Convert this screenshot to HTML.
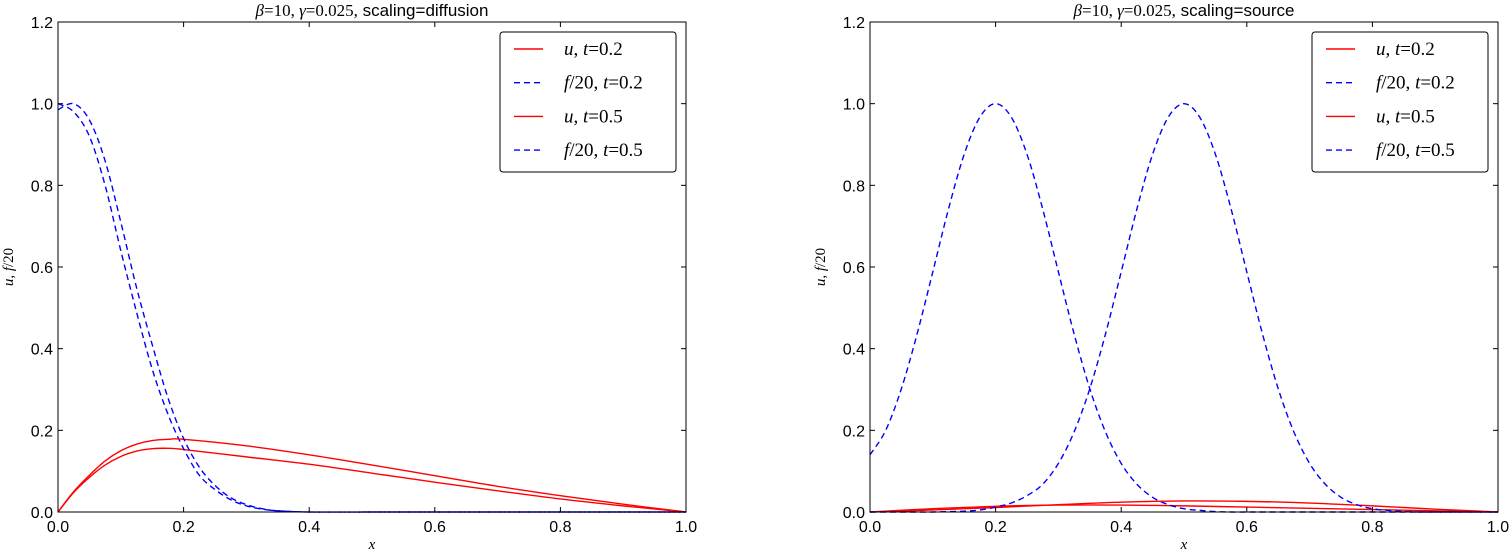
<!DOCTYPE html>
<html><head><meta charset="utf-8"><style>
body{margin:0;background:#fff;}
svg text{font-family:"Liberation Sans",sans-serif;}
svg text.serif{font-family:"Liberation Serif",serif;}
.m{font-family:"Liberation Serif",serif;font-style:italic;}
</style></head><body>
<svg id="fig" width="1512" height="552" xmlns="http://www.w3.org/2000/svg"></svg>
<script>
const xTicks=[0,0.2,0.4,0.6,0.8,1.0];
const yTicks=[0,0.2,0.4,0.6,0.8,1.0,1.2];
const xTickLabels=["0.0","0.2","0.4","0.6","0.8","1.0"];
const yTickLabels=["0.0","0.2","0.4","0.6","0.8","1.0","1.2"];
const xsL1=[0,0.025,0.05,0.075,0.1,0.125,0.15,0.175,0.2,0.225,0.25,0.275,0.3,0.325,0.35,0.4,0.5,0.6,0.7,0.8,0.9,1.0];
const fL_t02=[1.0,0.98,0.92,0.8,0.64,0.49,0.35,0.24,0.155,0.09,0.055,0.03,0.015,0.007,0.003,0,0,0,0,0,0,0];
const fL_t05=[0.985,1.0,0.96,0.86,0.71,0.55,0.41,0.28,0.18,0.11,0.065,0.035,0.018,0.008,0.003,0,0,0,0,0,0,0];
const xsU=[0,0.025,0.05,0.075,0.1,0.125,0.15,0.175,0.2,0.3,0.4,0.5,0.6,0.7,0.8,0.9,1.0];
const uL_t05=[0,0.05,0.09,0.125,0.15,0.166,0.175,0.178,0.178,0.162,0.14,0.115,0.089,0.063,0.04,0.019,0];
const uL_t02=[0,0.048,0.085,0.115,0.136,0.149,0.155,0.156,0.153,0.135,0.117,0.095,0.073,0.052,0.032,0.015,0];
const xsR=[0,0.025,0.05,0.075,0.1,0.125,0.15,0.175,0.2,0.225,0.25,0.275,0.3,0.325,0.35,0.375,0.4,0.425,0.45,0.475,0.5,0.525,0.55,0.575,0.6,0.625,0.65,0.675,0.7,0.725,0.75,0.775,0.8,0.825,0.85,0.875,0.9,0.925,0.95,0.975,1.0];
const fR_t02=[0.14,0.2,0.302,0.436,0.588,0.742,0.876,0.967,1,0.967,0.876,0.742,0.588,0.436,0.302,0.196,0.119,0.068,0.036,0.018,0.008,0.004,0.001,0,0,0,0,0,0,0,0,0,0,0,0,0,0,0,0,0,0];
const fR_t05=[0,0,0,0,0,0.001,0.002,0.005,0.012,0.022,0.04,0.068,0.119,0.196,0.302,0.436,0.588,0.742,0.876,0.967,1,0.967,0.876,0.742,0.588,0.436,0.302,0.196,0.119,0.068,0.036,0.018,0.008,0.004,0.001,0,0,0,0,0,0];
const xsUR=[0,0.1,0.2,0.3,0.4,0.5,0.6,0.7,0.8,0.9,1.0];
const uR_t02=[0,0.008,0.014,0.017,0.017,0.015,0.012,0.009,0.006,0.003,0];
const uR_t05=[0,0.005,0.011,0.018,0.024,0.027,0.026,0.022,0.015,0.007,0];

const NS="http://www.w3.org/2000/svg";
const svg=document.getElementById('fig');
function mk(tag,attrs,parent){const e=document.createElementNS(NS,tag);for(const k in attrs)e.setAttribute(k,attrs[k]);(parent||svg).appendChild(e);return e;}
function smooth(pts){
  let d='M'+pts[0][0].toFixed(2)+','+pts[0][1].toFixed(2);
  for(let i=0;i<pts.length-1;i++){
    const p0=pts[Math.max(0,i-1)],p1=pts[i],p2=pts[i+1],p3=pts[Math.min(pts.length-1,i+2)];
    const c1x=p1[0]+(p2[0]-p0[0])/6,c1y=p1[1]+(p2[1]-p0[1])/6;
    const c2x=p2[0]-(p3[0]-p1[0])/6,c2y=p2[1]-(p3[1]-p1[1])/6;
    d+=' C'+c1x.toFixed(2)+','+c1y.toFixed(2)+' '+c2x.toFixed(2)+','+c2y.toFixed(2)+' '+p2[0].toFixed(2)+','+p2[1].toFixed(2);
  }
  return d;
}
function panel(x0,x1,title,name,series){
  const y0=512,y1=22;
  const sx=v=>x0+(x1-x0)*v;
  const sy=v=>y0-(y0-y1)*v/1.2;
  const g=mk('g',{});
  
  
  series.forEach(s=>{
    const pts=s.xs.map((x,i)=>[sx(x),sy(s.ys[i])]);
    const p=mk('path',{d:smooth(pts),fill:'none',stroke:s.color,'stroke-width':1.4,'stroke-dasharray':s.dash?'6,4':'none'},g);
    
    
  });
  const fr=mk('rect',{x:x0,y:y1,width:x1-x0,height:y0-y1,fill:'none',stroke:'#000','stroke-width':1},g);
  
  
  xTicks.forEach((v,i)=>{
    const x=sx(v);
    mk('line',{x1:x,x2:x,y1:y0,y2:y0-5,stroke:'#000'},g);
    mk('line',{x1:x,x2:x,y1:y1,y2:y1+5,stroke:'#000'},g);
    const t=mk('text',{x:x,y:y0+20,'text-anchor':'middle','font-size':16},g);
    t.textContent=xTickLabels[i];
    
    
  });
  yTicks.forEach((v,i)=>{
    const y=sy(v);
    mk('line',{x1:x0,x2:x0+5,y1:y,y2:y,stroke:'#000'},g);
    mk('line',{x1:x1,x2:x1-5,y1:y,y2:y,stroke:'#000'},g);
    const t=mk('text',{x:x0-5,y:y+6,'text-anchor':'end','font-size':16},g);
    t.textContent=yTickLabels[i];
    
    
  });
  const tt=mk('text',{x:(x0+x1)/2,y:16,'text-anchor':'middle','font-size':17},g);
  tt.innerHTML='<tspan class="m">β</tspan><tspan class="serif" font-family="Liberation Serif">=10, </tspan><tspan class="m">γ</tspan><tspan font-family="Liberation Serif">=0.025,</tspan> scaling='+title;
  
  
  const xl=mk('text',{x:(x0+x1)/2,y:549,'text-anchor':'middle','font-size':15,'class':'m'},g);
  xl.textContent='x';
  
  
  const yl=mk('text',{x:0,y:0,'text-anchor':'middle','font-size':15,'class':'serif',transform:'translate('+(x0-45)+',267) rotate(-90)'},g);
  yl.innerHTML='<tspan class="m">u</tspan>, <tspan class="m">f</tspan>/20';
  
  
  const lx=x1-186, ly=32;
  const lg=mk('g',{},g);
  
  
  mk('rect',{x:lx,y:ly,width:176,height:140,rx:3,fill:'#fff',stroke:'#000','stroke-width':1},lg);
  const labels=['<tspan class="m">u</tspan>, <tspan class="m">t</tspan>=0.2','<tspan class="m">f</tspan>/20, <tspan class="m">t</tspan>=0.2','<tspan class="m">u</tspan>, <tspan class="m">t</tspan>=0.5','<tspan class="m">f</tspan>/20, <tspan class="m">t</tspan>=0.5'];
  labels.forEach((lab,i)=>{
    const y=ly+17+i*33.7;
    const dash=i%2===1;
    const e=mk('g',{},lg);
    
    
    mk('line',{x1:lx+14,x2:lx+43,y1:y,y2:y,stroke:dash?'#00f':'#f00','stroke-width':1.4,'stroke-dasharray':dash?'6,4':'none'},e);
    const t=mk('text',{x:lx+64,y:y+6,'font-size':19,'class':'serif'},e);
    t.innerHTML=lab;
  });
}
panel(58,686,'diffusion','left-panel',[
  {xs:xsU,ys:uL_t02,color:'#f00',dash:false,name:'u-t02-line'},
  {xs:xsL1,ys:fL_t02,color:'#00f',dash:true,name:'f-t02-line'},
  {xs:xsU,ys:uL_t05,color:'#f00',dash:false,name:'u-t05-line'},
  {xs:xsL1,ys:fL_t05,color:'#00f',dash:true,name:'f-t05-line'}]);
panel(870,1498,'source','right-panel',[
  {xs:xsUR,ys:uR_t02,color:'#f00',dash:false,name:'u-t02-line'},
  {xs:xsR,ys:fR_t02,color:'#00f',dash:true,name:'f-t02-line'},
  {xs:xsUR,ys:uR_t05,color:'#f00',dash:false,name:'u-t05-line'},
  {xs:xsR,ys:fR_t05,color:'#00f',dash:true,name:'f-t05-line'}]);
</script>
</body></html>
